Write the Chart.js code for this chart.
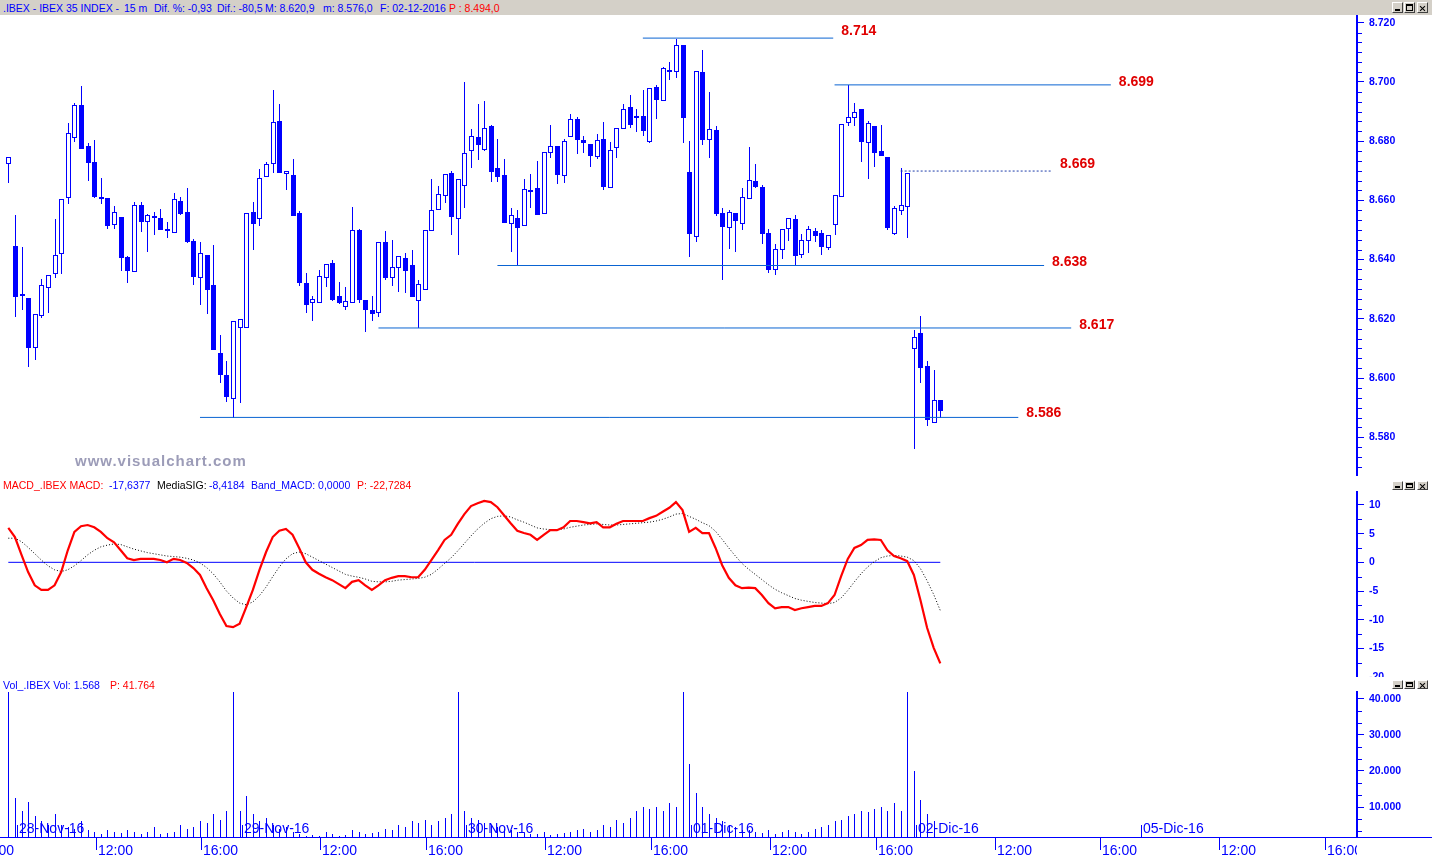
<!DOCTYPE html>
<html><head><meta charset="utf-8">
<script src="https://cdn.jsdelivr.net/npm/chart.js@4.4.0/dist/chart.umd.min.js"></script>
<style>
html,body{margin:0;padding:0;background:#fff;width:1432px;height:857px;overflow:hidden;font-family:"Liberation Sans",Arial,sans-serif;}
#bar{position:absolute;left:0;top:0;width:1432px;height:15px;background:#d4d0c8;}
.t{position:absolute;white-space:pre;font-size:10.5px;line-height:14px;}
canvas{position:absolute;left:0;}
.btn{position:absolute;width:11px;background:#d4d0c8;box-sizing:border-box;border:1px solid;border-color:#fff #404040 #404040 #fff;}
.btn i{position:absolute;display:block;background:#000;}
#wm{position:absolute;left:75px;top:452px;font:bold 15px "Liberation Sans",Arial,sans-serif;color:#9c9cb8;letter-spacing:1px;}
</style></head>
<body>
<div id="bar"></div>
<canvas id="cPrice" width="1432" height="462" style="top:15px"></canvas>
<canvas id="cMacd" width="1432" height="200" style="top:477px"></canvas>
<canvas id="cVol" width="1432" height="180" style="top:677px"></canvas>
<div id="wm">www.visualchart.com</div>
<div class="t" style="left:3px;top:1px;color:#0000ff">.IBEX - IBEX 35 INDEX -</div>
<div class="t" style="left:124px;top:1px;color:#0000ff">15 m</div>
<div class="t" style="left:154px;top:1px;color:#0000ff">Dif. %: -0,93</div>
<div class="t" style="left:217px;top:1px;color:#0000ff">Dif.: -80,5</div>
<div class="t" style="left:265px;top:1px;color:#0000ff">M: 8.620,9</div>
<div class="t" style="left:323px;top:1px;color:#0000ff">m: 8.576,0</div>
<div class="t" style="left:380px;top:1px;color:#0000ff">F: 02-12-2016</div>
<div class="t" style="left:449px;top:1px;color:#ff0000">P : 8.494,0</div>
<div class="t" style="left:3px;top:478px;color:#ff0000">MACD_.IBEX MACD:</div>
<div class="t" style="left:109px;top:478px;color:#0000ff">-17,6377</div>
<div class="t" style="left:157px;top:478px;color:#000">MediaSIG:</div>
<div class="t" style="left:209px;top:478px;color:#0000ff">-8,4184</div>
<div class="t" style="left:251px;top:478px;color:#0000ff">Band_MACD: 0,0000</div>
<div class="t" style="left:357px;top:478px;color:#ff0000">P: -22,7284</div>
<div class="t" style="left:3px;top:678px;color:#0000ff">Vol_.IBEX Vol: 1.568</div>
<div class="t" style="left:110px;top:678px;color:#ff0000">P: 41.764</div>
<script>
// ---------------- DATA ----------------
const opens = [8672.5,8644.6,8628.5,8626.9,8610.6,8621.2,8630.9,8635.4,8642.1,8661.2,8681.3,8692.1,8678.4,8673.0,8661.0,8660.8,8651.9,8654.4,8640.9,8636.3,8658.3,8652.9,8654.8,8654.0,8650.2,8649.2,8659.7,8656.0,8646.2,8634.0,8641.5,8631.3,8608.3,8600.9,8593.1,
8617.1,8617.3,8656.0,8653.9,8668.3,8672.5,8686.7,8669.1,8668.5,8655.7,8632.1,8625.6,8625.6,8634.0,8638.8,8627.7,8624.4,8625.6,8649.9,8626.2,8623.0,8622.2,8645.8,8634.0,8637.4,8640.4,8638.1,8626.2,8630.0,8649.9,8657.0,8661.7,8669.1,8653.9,
8665.1,8676.9,8681.3,8677.2,8685.0,8670.8,8668.4,8652.2,8653.9,8651.6,8663.5,8664.1,8655.6,8676.2,8678.2,8668.4,8681.9,8687.4,8680.3,8679.2,8675.1,8680.6,8664.4,8677.9,8684.3,8691.4,8688.5,8688.4,8680.2,8698.2,8693.8,8704.0,8703.6,8712.4,
8669.5,8647.9,8703.2,8680.6,8683.8,8655.6,8651.1,8655.6,8652.5,8660.7,8666.4,8664.4,8649.1,8636.9,8643.5,8650.6,8653.6,8641.8,8646.5,8649.5,8648.9,8644.2,8651.9,8661.4,8686.4,8688.0,8690.7,8679.6,8685.0,8676.7,8674.5,8649.1,8656.6,8658.0,
8610.0,8615.1,8604.0,8585.0,8592.5];
const highs = [8674.5,8655.1,8644.2,8626.9,8621.5,8633.3,8634.7,8653.7,8660.4,8686.2,8692.8,8698.6,8679.3,8680.3,8667.5,8660.8,8658.1,8654.4,8641.2,8659.6,8659.4,8655.3,8656.0,8657.1,8652.7,8662.5,8661.1,8664.2,8646.8,8645.8,8641.5,8644.9,8614.5,8605.7,8619.1,
8619.9,8655.6,8659.3,8670.5,8673.1,8697.3,8692.5,8669.8,8674.0,8656.4,8635.6,8627.7,8636.5,8638.4,8639.7,8632.4,8630.7,8657.8,8650.2,8626.2,8627.7,8645.8,8649.7,8646.6,8641.1,8642.1,8643.1,8633.0,8649.9,8667.2,8664.7,8668.8,8669.8,8667.1,
8699.9,8684.0,8692.5,8693.4,8685.4,8680.7,8673.9,8657.4,8656.7,8667.2,8668.9,8673.3,8676.2,8685.4,8678.2,8680.7,8689.2,8688.0,8681.7,8679.2,8682.4,8686.5,8679.7,8684.3,8692.5,8695.6,8690.7,8697.3,8697.8,8699.0,8704.9,8706.6,8714.6,8712.4,
8680.0,8703.6,8710.8,8696.6,8685.0,8657.3,8656.6,8655.6,8664.2,8678.0,8672.3,8665.1,8650.2,8645.1,8650.2,8653.9,8654.9,8648.5,8651.2,8650.6,8649.9,8648.2,8661.7,8685.7,8698.9,8692.9,8690.7,8686.7,8685.0,8685.3,8674.5,8658.0,8670.8,8669.1,
8616.1,8620.9,8605.7,8602.7,8592.5];
const lows = [8666.3,8621.1,8623.4,8604.2,8606.5,8620.5,8622.4,8634.2,8635.6,8659.2,8680.2,8677.8,8667.0,8661.0,8659.2,8650.8,8650.8,8636.5,8632.5,8636.0,8649.8,8643.0,8648.8,8650.4,8647.7,8649.2,8655.3,8646.0,8631.9,8625.1,8622.1,8609.7,8598.5,8592.2,8586.7,
8591.8,8617.3,8643.7,8651.8,8668.3,8669.7,8669.7,8664.0,8655.2,8631.5,8622.4,8619.6,8625.6,8631.1,8626.4,8625.4,8623.4,8625.6,8625.8,8616.0,8619.7,8621.1,8633.6,8631.5,8629.5,8629.2,8627.6,8617.3,8630.0,8649.9,8657.0,8659.6,8648.8,8642.0,
8657.9,8671.4,8674.1,8676.9,8666.7,8666.7,8652.8,8643.0,8638.6,8651.6,8657.9,8655.5,8655.6,8674.8,8666.0,8666.3,8681.9,8676.1,8676.4,8671.7,8674.4,8663.9,8664.4,8674.8,8684.3,8684.9,8683.5,8682.2,8679.8,8687.8,8693.8,8701.1,8701.8,8679.8,
8641.3,8646.4,8679.1,8674.8,8655.2,8633.3,8644.0,8642.9,8650.4,8660.7,8664.6,8645.7,8635.9,8635.2,8640.7,8646.7,8638.3,8640.8,8642.7,8646.4,8642.0,8643.7,8648.8,8661.4,8685.6,8685.6,8673.4,8667.7,8671.7,8675.2,8650.4,8648.8,8655.5,8647.7,
8576.3,8598.8,8584.0,8585.0,8586.7];
const closes = [8674.5,8627.8,8628.5,8610.6,8621.5,8631.3,8634.7,8641.4,8660.4,8682.6,8692.1,8677.8,8673.1,8661.6,8661.0,8651.8,8656.0,8641.0,8636.6,8658.3,8653.1,8655.0,8654.8,8650.4,8650.2,8660.4,8655.6,8646.4,8634.3,8642.1,8630.2,8609.7,8601.2,8593.9,8619.1,
8619.9,8655.6,8652.5,8667.4,8672.4,8686.4,8669.7,8669.8,8655.2,8632.4,8625.1,8626.6,8634.3,8638.4,8626.7,8625.8,8625.9,8649.9,8626.7,8623.4,8622.1,8645.8,8634.2,8637.4,8641.1,8636.6,8627.6,8631.6,8649.9,8656.6,8662.0,8668.8,8654.6,8667.1,
8675.9,8681.6,8678.9,8684.3,8670.0,8668.3,8652.8,8654.9,8650.9,8663.7,8663.5,8655.5,8676.2,8678.2,8669.0,8679.9,8687.4,8680.6,8679.6,8675.4,8680.3,8665.0,8676.9,8684.3,8690.9,8685.9,8688.5,8683.9,8697.8,8694.4,8704.6,8704.0,8712.4,8688.3,
8648.9,8703.6,8680.6,8684.0,8655.8,8651.4,8656.0,8653.5,8661.0,8666.8,8665.0,8649.1,8636.7,8643.7,8650.2,8653.9,8641.7,8646.5,8650.2,8648.4,8644.7,8648.2,8661.7,8685.7,8688.0,8689.7,8679.9,8686.0,8676.4,8675.2,8651.1,8657.3,8658.3,8669.1,
8613.7,8603.6,8586.0,8592.5,8589.1];
const volumes = [48000,
12500,9000,11500,7500,6000,5000,8000,5000,4500,4000,6000,3500,3000,2500,3500,3000,2800,3500,3000,2500,3000,4500,2500,2800,3000,5000,4000,4500,6000,5500,8000,6500,9000,48000,
9000,13000,8000,6000,7000,5000,4000,4500,3000,2500,2000,2300,2000,3000,2500,2000,2200,3500,3000,2500,2800,3000,4000,3500,5000,4500,6000,5500,6500,5000,6000,7000,8000,48000,
9000,7000,6500,5500,5000,4500,4000,3500,3000,2800,2500,2500,3000,2200,2500,2800,3000,3500,4000,3000,3500,5000,4500,6500,5500,7000,9000,10000,9500,10000,9000,11000,10000,48000,
22000,14000,10000,8000,7000,6000,5000,4500,3500,3500,3000,2800,3500,2500,3000,3500,3000,2500,3000,4000,4500,5000,6000,6500,7500,8000,9000,8500,9500,10000,9000,11000,9000,48000,
20000,12000,8000,6000,1568];
const macdValues = [6.0,4.4,1.3,-1.7,-4.0,-4.8,-4.8,-4.0,-1.7,2.1,
5.3,6.3,6.5,6.1,5.3,4.2,3.5,2.1,0.7,0.4,
0.6,0.6,0.6,0.4,0.0,0.6,0.4,-0.1,-1.0,-2.2,
-4.5,-6.6,-9.0,-11.1,-11.3,-10.7,-7.8,-4.8,-1.3,1.8,
4.4,5.5,5.8,4.8,2.5,0.0,-1.3,-2.0,-2.6,-3.1,
-3.8,-4.5,-3.4,-3.1,-4.0,-4.8,-4.0,-3.1,-2.7,-2.4,
-2.4,-2.6,-2.6,-1.3,0.4,2.1,3.9,4.8,6.7,8.4,
9.8,10.3,10.7,10.5,9.6,8.2,6.8,5.5,5.1,4.8,
3.9,4.8,5.6,5.6,6.1,7.2,7.2,7.0,6.8,7.0,
6.1,6.1,6.7,7.2,7.2,7.2,7.2,7.7,8.1,8.8,
9.5,10.5,9.1,5.3,6.0,5.1,5.1,2.5,-0.5,-2.7,
-4.0,-4.5,-4.4,-4.5,-5.7,-7.1,-8.0,-7.8,-7.8,-8.3,
-8.0,-7.8,-7.6,-7.6,-7.1,-5.7,-2.4,0.6,2.5,3.0,
3.9,4.0,3.9,2.1,1.1,0.7,0.2,-2.2,-6.6,-11.4,
-14.9,-17.6];
const signalValues = [4.2,4.2,3.6,2.6,1.5,0.4,-0.6,-1.3,-1.6,-1.3,
-0.6,0.3,1.3,2.1,2.7,3.0,3.2,3.1,2.7,2.3,
2.0,1.7,1.5,1.3,1.1,1.0,0.9,0.7,0.4,-0.1,
-0.9,-2.0,-3.4,-5.0,-6.2,-7.1,-7.4,-6.9,-5.8,-4.3,
-2.5,-0.8,0.6,1.5,1.8,1.5,0.9,0.3,-0.3,-0.9,
-1.5,-2.1,-2.4,-2.6,-2.9,-3.3,-3.4,-3.4,-3.3,-3.1,
-3.0,-2.9,-2.8,-2.6,-2.1,-1.2,-0.2,0.8,2.0,3.3,
4.6,5.8,6.8,7.6,8.0,8.1,7.9,7.4,7.0,6.5,
6.0,5.8,5.7,5.7,5.8,6.1,6.3,6.5,6.6,6.7,
6.6,6.5,6.5,6.6,6.7,6.8,6.9,7.0,7.2,7.5,
7.9,8.4,8.5,8.0,7.5,6.9,6.4,5.4,4.0,2.5,
1.1,-0.2,-1.2,-2.1,-3.0,-3.9,-4.7,-5.3,-5.8,-6.3,
-6.6,-6.8,-7.0,-7.1,-7.2,-7.0,-6.2,-4.9,-3.4,-2.0,
-0.8,0.1,0.8,1.1,1.2,1.1,0.9,0.3,-1.1,-3.2,
-5.6,-8.4];
const bandValue = 0;
const priceTicks = [8580,8600,8620,8640,8660,8680,8700,8720];
const macdTicks = [-20,-15,-10,-5,0,5,10];
const volumeTicks = [10000,20000,30000,40000];
const levelValues = [8714.8,8699.0,8669.9,8638.0,8616.9,8586.7];
const levelLabels = ['8.714','8.699','8.669','8.638','8.617','8.586'];
const levelFromBar = [96,125,135,74,56,29];
const levelToBar = [124.8,166.8,157.9,156.7,160.8,152.8];
const dayStartBars = [1,35,69,103,137,171];
const dayLabels = ['28-Nov-16','29-Nov-16','30-Nov-16','01-Dic-16','02-Dic-16','05-Dic-16'];
const timeTickBars = [-5,13,29,47,63,81,97,115,131,149,165,183,199];
const timeTickLabels = ['16:00','12:00','16:00','12:00','16:00','12:00','16:00','12:00','16:00','12:00','16:00','12:00','16:00'];

// ---------------- STYLE / LAYOUT ----------------
const BLUE = '#0000ff', LEVEL = '#0a64d2', FONT = '"Liberation Sans", Arial, sans-serif';
const AXIS_W = 75;
const X_MIN = -1.256, X_MAX = 204.04;
const levelDash = [false,false,true,false,false,false];
const levelLabelDy = [-7,-3,-7,-3,-3,-4];

const fmtThousands = v => { const s = Math.round(v).toString(); return s.length > 3 ? s.slice(0, s.length-3) + '.' + s.slice(-3) : s; };

function yAxis(min, max, majors, fmt) {
  return {
    type: 'linear', position: 'right', min, max,
    afterBuildTicks: s => { s.ticks = majors.map(v => ({value: v})); },
    afterFit: s => { s.width = AXIS_W; s.paddingTop = 0; s.paddingBottom = 0; },
    ticks: { autoSkip: false, color: BLUE, padding: 5, font: {family: FONT, size: 10.5, weight: 'bold'}, callback: v => fmt(v) },
    grid: { drawOnChartArea: false, drawTicks: true, tickLength: 7, color: BLUE, lineWidth: 1 },
    border: { display: true, color: BLUE, width: 2 }
  };
}
const xAxis = { type: 'linear', min: X_MIN, max: X_MAX, display: false, offset: false };

function minorTicks(step, majors) {
  return {
    id: 'minor',
    afterDraw(chart) {
      const ys = chart.scales.y, a = chart.chartArea, ctx = chart.ctx;
      ctx.save(); ctx.fillStyle = BLUE;
      for (let v = Math.ceil(ys.min / step) * step; v <= ys.max; v += step) {
        if (majors.some(m => Math.abs(m - v) < 1e-6)) continue;
        const py = Math.round(ys.getPixelForValue(v));
        ctx.fillRect(Math.round(a.right) + 1, py, 4, 1);
      }
      ctx.restore();
    }
  };
}

function drawButtons(top, h) {
  const xs = [1392, 1404, 1417];
  xs.forEach((x, k) => {
    const b = document.createElement('div');
    b.className = 'btn'; b.style.left = x + 'px'; b.style.top = top + 'px'; b.style.height = h + 'px';
    if (k === 0) b.innerHTML = '<i style="left:2px;bottom:1px;width:5px;height:2px"></i>';
    if (k === 1) b.innerHTML = '<i style="left:1px;top:1px;width:7px;height:2px"></i><i style="left:1px;top:1px;width:1px;height:' + (h-4) + 'px"></i><i style="left:7px;top:1px;width:1px;height:' + (h-4) + 'px"></i><i style="left:1px;top:' + (h-4) + 'px;width:7px;height:1px"></i>';
    if (k === 2) b.innerHTML = '<i style="left:4px;top:' + (h/2-4) + 'px;width:1px;height:7px;transform:rotate(45deg)"></i><i style="left:4px;top:' + (h/2-4) + 'px;width:1px;height:7px;transform:rotate(-45deg)"></i>';
    document.body.appendChild(b);
  });
}
drawButtons(2, 11); drawButtons(481, 9); drawButtons(680, 9);

// ---------------- PRICE CHART ----------------
const candlePlugin = {
  id: 'candles',
  beforeDatasetsDraw(chart) {
    const xs = chart.scales.x, ys = chart.scales.y, ctx = chart.ctx, a = chart.chartArea;
    ctx.save(); ctx.beginPath(); ctx.rect(a.left, a.top, a.right - a.left, a.bottom - a.top); ctx.clip();
    for (let i = 0; i < opens.length; i++) {
      const cx = Math.round(xs.getPixelForValue(i));
      const yh = Math.round(ys.getPixelForValue(highs[i])), yl = Math.round(ys.getPixelForValue(lows[i]));
      const yo = Math.round(ys.getPixelForValue(opens[i])), yc = Math.round(ys.getPixelForValue(closes[i]));
      const top = Math.min(yo, yc), bot = Math.max(yo, yc);
      ctx.fillStyle = BLUE;
      ctx.fillRect(cx, yh, 1, yl - yh + 1);
      if (closes[i] > opens[i]) {
        ctx.fillRect(cx - 2, top, 5, bot - top + 1);
        if (bot - top >= 2) { ctx.fillStyle = '#fff'; ctx.fillRect(cx - 1, top + 1, 3, bot - top - 1); }
      } else {
        ctx.fillRect(cx - 2, top, 5, Math.max(bot - top + 1, 2));
      }
    }
    ctx.restore();
  },
  afterDatasetsDraw(chart) {
    const xs = chart.scales.x, ys = chart.scales.y, ctx = chart.ctx;
    ctx.save();
    ctx.fillStyle = '#e00000'; ctx.font = 'bold 14px ' + FONT; ctx.textBaseline = 'middle'; ctx.textAlign = 'left';
    levelValues.forEach((v, k) => {
      ctx.fillText(levelLabels[k], xs.getPixelForValue(levelToBar[k]) + 8, ys.getPixelForValue(v) + levelLabelDy[k]);
    });
    ctx.restore();
  }
};

new Chart(document.getElementById('cPrice'), {
  type: 'line',
  data: { datasets: levelValues.map((v, k) => ({
    data: [{x: levelFromBar[k], y: v}, {x: levelToBar[k], y: v}],
    borderColor: levelDash[k] ? '#1e3caa' : LEVEL, borderWidth: 1, borderDash: levelDash[k] ? [2, 2] : [],
    pointRadius: 0, tension: 0
  })) },
  options: {
    responsive: false, animation: false, devicePixelRatio: 1, events: [],
    layout: { padding: { left: 0, right: 0, top: 0, bottom: 2 } },
    plugins: { legend: { display: false }, tooltip: { enabled: false } },
    scales: { x: xAxis, y: yAxis(8567.25, 8722.6, priceTicks, v => (v / 1000).toFixed(3)) }
  },
  plugins: [candlePlugin, minorTicks(20 / 6, priceTicks)]
});

// ---------------- MACD CHART ----------------
new Chart(document.getElementById('cMacd'), {
  type: 'line',
  data: { datasets: [
    { data: macdValues.map((v, i) => ({x: i, y: v})), borderColor: '#ff0000', borderWidth: 2.2, pointRadius: 0, tension: 0 },
    { data: signalValues.map((v, i) => ({x: i, y: v})), borderColor: '#000', borderWidth: 1, borderDash: [1, 2], pointRadius: 0, tension: 0 },
    { data: [{x: 0, y: bandValue}, {x: macdValues.length - 1, y: bandValue}], borderColor: BLUE, borderWidth: 1, pointRadius: 0 }
  ] },
  options: {
    responsive: false, animation: false, devicePixelRatio: 1, events: [],
    layout: { padding: { left: 0, right: 0, top: 15, bottom: 1 } },
    plugins: { legend: { display: false }, tooltip: { enabled: false } },
    scales: { x: xAxis, y: yAxis(-19.8, 12.25, macdTicks, v => String(v)) }
  },
  plugins: [minorTicks(2.5, macdTicks)]
});

// ---------------- VOLUME CHART ----------------
const volumePlugin = {
  id: 'volume',
  beforeDatasetsDraw(chart) {
    const xs = chart.scales.x, ys = chart.scales.y, ctx = chart.ctx, a = chart.chartArea;
    ctx.save(); ctx.beginPath(); ctx.rect(a.left, a.top, a.right - a.left, a.bottom - a.top); ctx.clip();
    ctx.fillStyle = BLUE;
    const base = Math.round(a.bottom);
    volumes.forEach((v, i) => {
      const cx = Math.round(xs.getPixelForValue(i));
      const py = Math.round(ys.getPixelForValue(v));
      if (py < base) ctx.fillRect(cx, py, 1, base - py);
    });
    ctx.restore();
  },
  afterDraw(chart) {
    const xs = chart.scales.x, ctx = chart.ctx, a = chart.chartArea;
    const base = Math.round(a.bottom);
    ctx.save();
    ctx.fillStyle = BLUE;
    ctx.fillRect(0, base, chart.width, 1);
    ctx.beginPath(); ctx.rect(0, 0, a.right, chart.height); ctx.clip();
    ctx.font = '14px ' + FONT; ctx.textAlign = 'left'; ctx.textBaseline = 'middle';
    dayStartBars.forEach((b, k) => {
      const px = Math.round(xs.getPixelForValue(b + 0.3));
      ctx.fillRect(px, base - 12, 1, 12);
      ctx.fillText(dayLabels[k], px + 2, base - 8);
    });
    timeTickBars.forEach((b, k) => {
      const px = Math.round(xs.getPixelForValue(b + 0.2));
      ctx.fillRect(px, base, 1, 13);
      ctx.fillText(timeTickLabels[k], px + 2, base + 14);
    });
    ctx.restore();
  }
};
new Chart(document.getElementById('cVol'), {
  type: 'line',
  data: { datasets: [] },
  options: {
    responsive: false, animation: false, devicePixelRatio: 1, events: [],
    layout: { padding: { left: 0, right: 0, top: 15, bottom: 20 } },
    plugins: { legend: { display: false }, tooltip: { enabled: false } },
    scales: { x: xAxis, y: yAxis(1667, 41944, volumeTicks, fmtThousands) }
  },
  plugins: [volumePlugin, minorTicks(10000 / 3, volumeTicks)]
});
</script>
</body></html>
